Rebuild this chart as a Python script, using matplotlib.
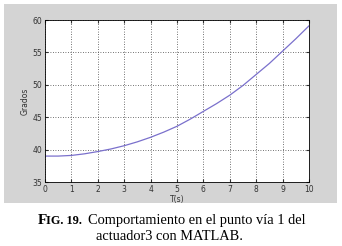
import matplotlib.pyplot as plt
import matplotlib.patches as patches

t = [0, 0.5, 1, 1.5, 2, 2.5, 3, 3.5, 4, 4.5, 5, 5.5, 6, 6.5, 7, 7.5, 8, 8.5, 9, 9.5, 10]
grados = [39.0, 39.0, 39.1, 39.35, 39.7, 40.1, 40.6, 41.2, 41.9, 42.7, 43.6, 44.7,
          45.9, 47.1, 48.4, 49.9, 51.6, 53.3, 55.2, 57.1, 59.1]
xticks = list(range(0, 11))
yticks = [35, 40, 45, 50, 55, 60]

W, H = 342, 246
fig = plt.figure(figsize=(W / 100, H / 100), dpi=100)
fig.patch.set_facecolor('white')

# gray MATLAB figure panel
bg = fig.add_axes([4 / W, 1 - 203 / H, 333 / W, 199 / H], zorder=0)
bg.set_axis_off()
bg.add_patch(patches.Rectangle((0, 0), 1, 1, transform=bg.transAxes,
                               facecolor='#d4d4d4', edgecolor='none'))

ax = fig.add_axes([45 / W, 1 - 182 / H, 264 / W, 162 / H], zorder=1)
ax.set_facecolor('white')
ax.plot(t, grados, color='#7a70cc', linewidth=0.9)
ax.set_xlim(0, 10)
ax.set_ylim(35, 60)
ax.set_xticks(xticks)
ax.set_yticks(yticks)
ax.grid(True, color='#444444', linestyle=(0, (1, 2)), linewidth=0.6)
ax.tick_params(direction='in', length=2, labelsize=5.5, colors='#333333', pad=2,
               top=True, right=True)
for s in ax.spines.values():
    s.set_linewidth(0.6)
ax.set_xlabel('T(s)', fontsize=5.5, color='#333333', labelpad=1)
ax.set_ylabel('Grados', fontsize=5.5, color='#333333', labelpad=2)

# caption
fig.text(38 / W, 1 - 224 / H, 'F', fontsize=11, fontweight='bold',
         family='Liberation Serif', va='baseline')
fig.text(46 / W, 1 - 224 / H, 'IG. 19.', fontsize=8.8, fontweight='bold',
         family='Liberation Serif', va='baseline')
fig.text(88 / W, 1 - 224 / H, 'Comportamiento en el punto vía 1 del',
         fontsize=10.4, family='Liberation Serif', va='baseline')
fig.text(169 / W, 1 - 240 / H, 'actuador3 con MATLAB.', fontsize=10.4,
         family='Liberation Serif', va='baseline', ha='center')

fig.savefig('out.png', dpi=100)
